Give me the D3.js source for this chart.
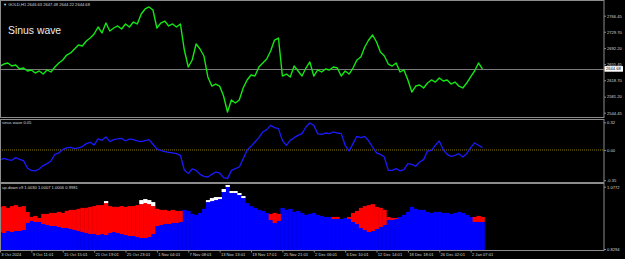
<!DOCTYPE html>
<html>
<head>
<meta charset="utf-8">
<script src="https://cdn.jsdelivr.net/npm/d3@7"></script>
<style>
  body { margin: 0; background: #000; }
  svg { display: block; }
</style>
</head>
<body>
<div id="chart"></div>
<script>
// values, one sample every ~3.9 px (8 samples per time label)

const timeLabels = ['3 Oct 2024', '9 Oct 11:01', '15 Oct 15:01', '21 Oct 19:01', '25 Oct 23:01',
  '1 Nov 04:01', '7 Nov 08:01', '13 Nov 13:01', '19 Nov 17:01', '25 Nov 21:01', '2 Dec 06:01',
  '6 Dec 10:01', '12 Dec 14:01', '18 Dec 18:01', '26 Dec 02:01', '2 Jan 07:01']

const closes = [2651.3, 2655.9, 2658.2, 2651.3, 2653.6, 2644.5, 2646.7, 2639.9, 2642.2, 2635.3,
  2639.9, 2633.0, 2642.2, 2637.6, 2649.0, 2658.2, 2665.1, 2676.5, 2681.1, 2690.2,
  2699.4, 2697.1, 2708.6, 2715.4, 2724.6, 2740.6, 2726.9, 2749.7, 2731.4, 2738.3,
  2742.9, 2736.0, 2747.5, 2740.6, 2752.0, 2747.5, 2770.4, 2781.8, 2786.4, 2779.5,
  2738.3, 2749.7, 2754.3, 2742.9, 2747.5, 2740.6, 2747.5, 2687.9, 2649.0, 2665.1,
  2701.7, 2690.2, 2674.2, 2626.2, 2605.5, 2610.1, 2605.5, 2582.7, 2546.0, 2573.5,
  2566.6, 2573.5, 2601.0, 2619.3, 2630.7, 2628.4, 2649.0, 2658.2, 2667.3, 2685.7,
  2710.8, 2715.4, 2628.4, 2633.0, 2626.2, 2651.3, 2639.9, 2628.4, 2646.7, 2660.5,
  2628.4, 2642.2, 2637.6, 2644.5, 2642.2, 2649.0, 2646.7, 2628.4, 2639.9, 2633.0,
  2646.7, 2665.1, 2671.9, 2694.8, 2710.8, 2722.3, 2706.3, 2683.4, 2674.2, 2655.9,
  2651.3, 2658.2, 2637.6, 2642.2, 2619.3, 2591.8, 2605.5, 2607.8, 2601.0, 2612.4,
  2619.3, 2614.7, 2623.9, 2617.0, 2619.3, 2610.1, 2614.7, 2605.5, 2601.0, 2612.4,
  2626.2, 2639.9, 2658.2, 2644.68]

const sinus = [-0.116, -0.097, -0.112, -0.120, -0.089, -0.108, -0.124, -0.212, -0.236, -0.243,
  -0.220, -0.181, -0.158, -0.127, -0.050, -0.035, 0.004, 0.023, 0.031, 0.015,
  0.023, 0.039, 0.073, 0.089, 0.058, 0.127, 0.112, 0.151, 0.097, 0.120,
  0.127, 0.135, 0.104, 0.127, 0.120, 0.104, 0.097, 0.108, 0.120, 0.066,
  0.012, -0.004, -0.019, -0.027, -0.035, -0.042, -0.062, -0.232, -0.274, -0.220,
  -0.236, -0.282, -0.305, -0.313, -0.282, -0.255, -0.267, -0.321, -0.332, -0.236,
  -0.216, -0.197, -0.101, -0.004, 0.042, 0.092, 0.142, 0.208, 0.235, 0.285,
  0.258, 0.247, 0.111, 0.054, 0.111, 0.142, 0.169, 0.189, 0.266, 0.312,
  0.285, 0.189, 0.181, 0.196, 0.189, 0.208, 0.196, 0.189, 0.054, -0.012,
  0.073, 0.158, 0.142, 0.158, 0.104, 0.034, -0.035, -0.051, -0.081, -0.236,
  -0.236, -0.216, -0.243, -0.228, -0.159, -0.166, -0.189, -0.139, -0.112, -0.012,
  -0.004, 0.054, 0.104, 0.003, -0.051, -0.074, -0.062, -0.043, -0.081, -0.043,
  0.027, 0.081, 0.054, 0.027]

const upBlue = [0.897, 0.897, 0.901, 0.905, 0.909, 0.909, 0.913, 0.937, 0.945, 0.949,
  0.945, 0.941, 0.937, 0.937, 0.933, 0.929, 0.929, 0.925, 0.925, 0.921,
  0.917, 0.913, 0.909, 0.905, 0.901, 0.901, 0.901, 0.905, 0.905, 0.909,
  0.909, 0.905, 0.901, 0.897, 0.893, 0.889, 0.885, 0.885, 0.889, 0.905,
  0.929, 0.933, 0.937, 0.937, 0.941, 0.941, 0.945, 0.985, 0.981, 0.969,
  0.965, 0.973, 0.989, 1.016, 1.020, 1.024, 1.028, 1.056, 1.076, 1.052,
  1.052, 1.044, 1.032, 1.012, 1.000, 0.993, 0.985, 0.981, 0.973, 0.965,
  0.961, 0.957, 0.993, 0.985, 0.989, 0.977, 0.981, 0.973, 0.965, 0.969,
  0.973, 0.965, 0.961, 0.957, 0.957, 0.953, 0.953, 0.949, 0.953, 0.953,
  0.957, 0.953, 0.949, 0.953, 0.957, 0.953, 0.949, 0.953, 0.953, 0.949,
  0.953, 0.953, 0.957, 0.965, 0.977, 0.997, 0.989, 0.985, 0.985, 0.977,
  0.973, 0.977, 0.977, 0.973, 0.973, 0.969, 0.973, 0.977, 0.973, 0.965,
  0.957, 0.937, 0.937, 0.937]

const upRedHi = [0.997, 1.000, 0.993, 1.000, 1.004, 0.997, 1.000, 0.977, 0.957, 0.961,
  0.953, 0.969, 0.969, 0.973, 0.973, 0.977, 0.973, 0.981, 0.985, 0.985,
  0.989, 0.993, 0.993, 0.997, 1.000, 1.004, 1.004, 1.012, 1.000, 0.997,
  0.997, 1.000, 0.997, 1.000, 1.000, 1.004, 1.008, 1.012, 1.008, 1.000,
  0.989, 0.985, 0.985, 0.981, 0.985, 0.981, 0.981,
  null, null, null, null, null, null, null, null, null, null, null,
  null, null, null, null, null, null, null, null, null, null, null,
  0.969, 0.973, 0.969,
  null, null, null, null, null, null, null, null, null, null, null, null, null,
  0.957, 0.957, null, null,
  0.957, 0.973, 0.981, 0.993, 1.000, 1.004, 1.008, 0.997, 0.993, 0.985, 0.957, 0.953, 0.953,
  null, null, null, null, null, null, null, null, null, null,
  null, null, null, null, null, null, null, null, null,
  0.957, 0.961, 0.957]

const upRedLo = [0.897, 0.893, 0.901, 0.897, 0.901, 0.901, 0.905, 0.933, 0.941, 0.937,
  0.937, 0.929, 0.925, 0.921, 0.921, 0.917, 0.913, 0.913, 0.909, 0.905,
  0.901, 0.897, 0.893, 0.889, 0.889, 0.885, 0.889, 0.885, 0.893, 0.897,
  0.893, 0.889, 0.885, 0.881, 0.881, 0.877, 0.873, 0.873, 0.877, 0.889,
  0.921, 0.925, 0.929, 0.929, 0.933, 0.933, 0.937,
  null, null, null, null, null, null, null, null, null, null, null,
  null, null, null, null, null, null, null, null, null, null, null,
  0.945, 0.933, 0.941,
  null, null, null, null, null, null, null, null, null, null, null, null, null,
  0.949, 0.949, null, null,
  0.949, 0.937, 0.929, 0.913, 0.905, 0.897, 0.901, 0.909, 0.917, 0.925, 0.945, 0.945, 0.949,
  null, null, null, null, null, null, null, null, null, null,
  null, null, null, null, null, null, null, null, null,
  0.937, 0.937, 0.937]

const whiteIdx = [27, 36, 37, 38, 39, 53, 54, 55, 56, 57, 58, 59, 60, 61, 62]
const whiteHi = [1.020, 1.024, 1.028, 1.024, 1.016, 1.024, 1.032, 1.036, 1.036, 1.068, 1.084, 1.060, 1.060, 1.052, 1.040]
const whiteLo = [1.012, 1.008, 1.012, 1.008, 1.000, 1.016, 1.020, 1.024, 1.028, 1.056, 1.076, 1.052, 1.052, 1.044, 1.032]

const priceTicks = [2766.45, 2729.70, 2692.20, 2655.45, 2618.70, 2581.20, 2544.45]
const sinusTicks = [0.32, 0.00, -0.35]
const updownTicks = [1.0772, 0.8294]
const lastPrice = 2644.68

const headerText = '\u25BC GOLD,H1  2646.63 2647.48 2644.22 2644.68'
const sinusTitle = 'sinus wave 0.05'
const updownTitle = 'up-down v9 1.0030 1.0007 1.0006 0.9981'

const width = 625
const height = 259
const plotW = 604
const mainBox = [0.5, 117.5]
const sinusBox = [119.5, 182.5]
const udBox = [183.5, 250.5]
const font = "'Liberation Sans', Arial, sans-serif"
const small = 4.1

const svg = d3.select('#chart')
  .append('svg')
  .attr('width', width)
  .attr('height', height)
  .style('background', '#000')

const x = d3.scaleLinear().domain([0, 154]).range([0, plotW])
const step = x(1) - x(0)
const yMain = d3.scaleLinear().domain([2544.45, 2766.45]).range([112.7, 15.7])
const ySin = d3.scaleLinear().domain([-0.35, 0.32]).range([180.2, 122.3])
const yUd = d3.scaleLinear().domain([0.8294, 1.0772]).range([249, 186.7])

const defs = svg.append('defs')
const addClip = (id, box) => {
  defs.append('clipPath').attr('id', id)
    .append('rect')
    .attr('x', 0.5).attr('y', box[0])
    .attr('width', plotW - 0.5).attr('height', box[1] - box[0])
}
addClip('clip-main', mainBox)
addClip('clip-sin', sinusBox)
addClip('clip-ud', udBox)

// --- up-down histogram
const ud = svg.append('g').attr('clip-path', 'url(#clip-ud)')
ud.selectAll('rect.blue')
  .data(upBlue)
  .enter().append('rect')
  .attr('class', 'blue')
  .attr('x', (d, i) => x(i) - step / 2)
  .attr('width', step + 0.4)
  .attr('y', d => yUd(d))
  .attr('height', d => udBox[1] - yUd(d))
  .attr('fill', '#0000ff')

ud.selectAll('rect.red')
  .data(upRedHi.map((d, i) => ({ i, hi: d, lo: upRedLo[i] })).filter(d => d.hi !== null))
  .enter().append('rect')
  .attr('class', 'red')
  .attr('x', d => x(d.i) - step / 2)
  .attr('width', step + 0.4)
  .attr('y', d => yUd(d.hi))
  .attr('height', d => yUd(d.lo) - yUd(d.hi))
  .attr('fill', '#ff0000')

ud.selectAll('rect.white')
  .data(whiteIdx.map((idx, k) => ({ i: idx, hi: whiteHi[k], lo: whiteLo[k] })))
  .enter().append('rect')
  .attr('class', 'white')
  .attr('x', d => x(d.i) - step / 2)
  .attr('width', step + 0.4)
  .attr('y', d => yUd(d.hi))
  .attr('height', d => yUd(d.lo) - yUd(d.hi))
  .attr('fill', '#ffffff')

// --- sinus wave
const sg = svg.append('g').attr('clip-path', 'url(#clip-sin)')
sg.append('line')
  .attr('x1', 0).attr('x2', plotW)
  .attr('y1', ySin(0)).attr('y2', ySin(0))
  .attr('stroke', '#8a7a00')
  .attr('stroke-dasharray', '1,1')
sg.append('path')
  .datum(sinus)
  .attr('fill', 'none')
  .attr('stroke', '#1a1aff')
  .attr('stroke-width', 1.3)
  .attr('stroke-linejoin', 'round')
  .attr('d', d3.line().x((d, i) => x(i)).y(d => ySin(d)))

// --- main price line
const mg = svg.append('g').attr('clip-path', 'url(#clip-main)')
mg.append('line')
  .attr('x1', 0).attr('x2', plotW)
  .attr('y1', Math.round(yMain(lastPrice)) + 0.5).attr('y2', Math.round(yMain(lastPrice)) + 0.5)
  .attr('stroke', '#7a7a7a')
mg.append('path')
  .datum(closes)
  .attr('fill', 'none')
  .attr('stroke', '#14e614')
  .attr('stroke-width', 1.4)
  .attr('stroke-linejoin', 'round')
  .attr('d', d3.line().x((d, i) => x(i)).y(d => yMain(d)))

// --- panel borders
;[mainBox, sinusBox, udBox].forEach(b => {
  svg.append('rect')
    .attr('x', 0.5).attr('y', b[0])
    .attr('width', plotW - 0.5).attr('height', b[1] - b[0])
    .attr('fill', 'none')
    .attr('stroke', '#8c8c8c')
})

// --- axes
const styleAxis = g => {
  g.attr('font-family', font).attr('font-size', small)
  g.select('.domain').remove()
  g.selectAll('line').attr('stroke', '#8c8c8c')
  g.selectAll('text').attr('fill', '#d8d8d8')
}

svg.append('g')
  .attr('transform', `translate(${plotW},0)`)
  .call(d3.axisRight(yMain).tickValues(priceTicks).tickFormat(d => d.toFixed(2)).tickSize(2).tickPadding(1))
  .call(styleAxis)

svg.append('g')
  .attr('transform', `translate(${plotW},0)`)
  .call(d3.axisRight(ySin).tickValues(sinusTicks).tickFormat(d => d.toFixed(2)).tickSize(2).tickPadding(1))
  .call(styleAxis)

svg.append('g')
  .attr('transform', `translate(${plotW},0)`)
  .call(d3.axisRight(yUd).tickValues(updownTicks).tickFormat(d => d.toFixed(4)).tickSize(2).tickPadding(1))
  .call(styleAxis)

svg.append('g')
  .attr('transform', `translate(0,${udBox[1]})`)
  .call(d3.axisBottom(x).tickValues(timeLabels.map((d, i) => i * 8)).tickFormat((d, i) => timeLabels[i]).tickSize(2).tickPadding(1))
  .call(styleAxis)
  .call(g => g.selectAll('text').attr('text-anchor', 'start').attr('x', 0.8))

// current price tag
const py = yMain(lastPrice)
svg.append('rect')
  .attr('x', plotW + 0.5).attr('y', py - 2.8)
  .attr('width', 18.5).attr('height', 5.6)
  .attr('fill', '#ffffff')
svg.append('text')
  .attr('x', plotW + 2).attr('y', py)
  .attr('dy', '0.35em')
  .attr('font-family', font).attr('font-size', small)
  .attr('fill', '#000')
  .text(lastPrice.toFixed(2))

// --- titles
svg.append('text')
  .attr('x', 3).attr('y', 5.6)
  .attr('font-family', font).attr('font-size', small)
  .attr('fill', '#d8d8d8')
  .text(headerText)

svg.append('text')
  .attr('x', 8).attr('y', 33.5)
  .attr('font-family', font).attr('font-size', 10.4)
  .attr('fill', '#ececec')
  .text('Sinus wave')

svg.append('text')
  .attr('x', 2).attr('y', 124.2)
  .attr('font-family', font).attr('font-size', small)
  .attr('fill', '#d8d8d8')
  .text(sinusTitle)

svg.append('text')
  .attr('x', 2).attr('y', 188.6)
  .attr('font-family', font).attr('font-size', small)
  .attr('fill', '#d8d8d8')
  .text(updownTitle)
</script>
</body>
</html>
